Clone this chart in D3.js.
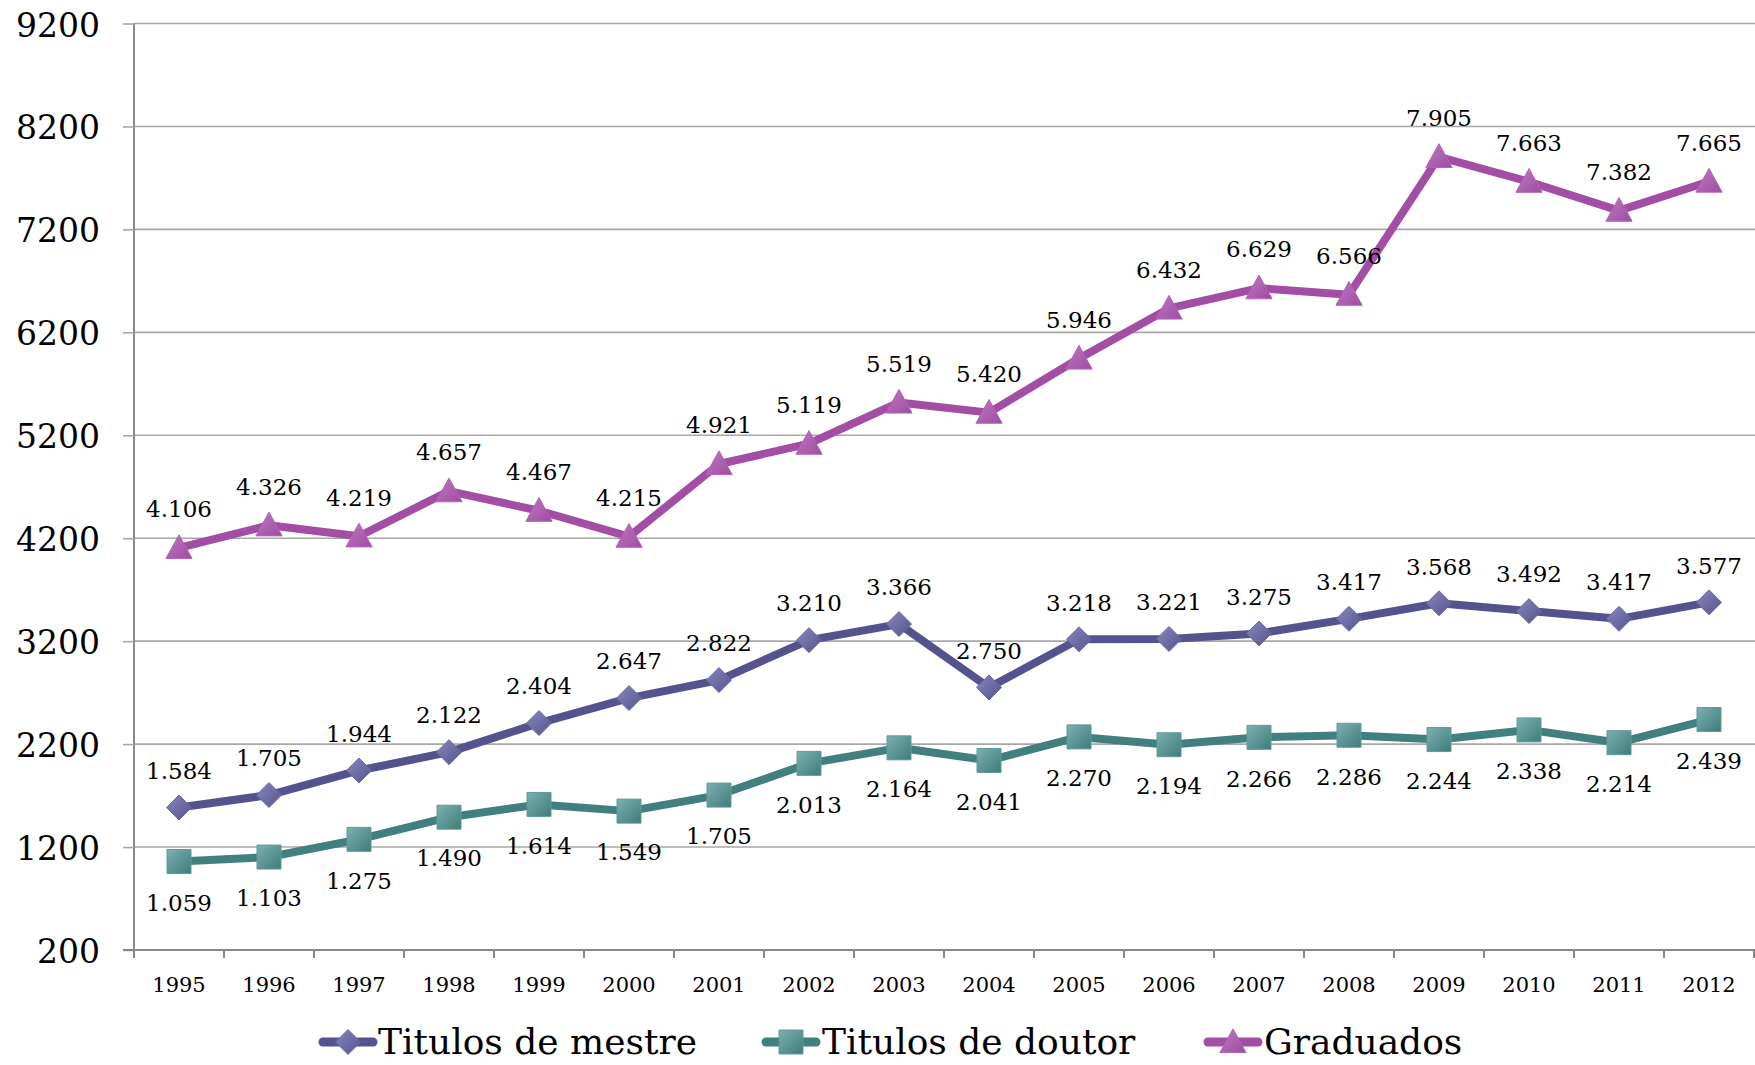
<!DOCTYPE html>
<html><head><meta charset="utf-8">
<script src="https://cdn.jsdelivr.net/npm/d3@7"></script>
<style>html,body{margin:0;padding:0;background:#fff;}svg{display:block;}</style>
</head><body>
<svg id="chart" width="1755" height="1065"></svg>
<script>
const years = ["1995","1996","1997","1998","1999","2000","2001","2002","2003","2004","2005","2006","2007","2008","2009","2010","2011","2012"];
const mestre = [1584,1705,1944,2122,2404,2647,2822,3210,3366,2750,3218,3221,3275,3417,3568,3492,3417,3577];
const doutor = [1059,1103,1275,1490,1614,1549,1705,2013,2164,2041,2270,2194,2266,2286,2244,2338,2214,2439];
const graduados = [4106,4326,4219,4657,4467,4215,4921,5119,5519,5420,5946,6432,6629,6566,7905,7663,7382,7665];
const yTicks = [200,1200,2200,3200,4200,5200,6200,7200,8200,9200];
const seriesNames = ["Titulos de mestre","Titulos de doutor","Graduados"];

const W = 1755, H = 1065;
const pLeft = 134, pRight = 1754, pTop = 23.5, pBottom = 950;
const FONT = "'DejaVu Serif', serif";
const svg = d3.select("#chart");
const x = d3.scaleBand().domain(years).range([pLeft, pRight]).padding(0);
const y = d3.scaleLinear().domain([200, 9200]).range([pBottom, pTop]);
const cx = d => x(d) + x.bandwidth() / 2;
const fmt = d3.formatLocale({decimal: ",", thousands: ".", grouping: [3], currency: ["", ""]}).format(",d");

const defs = svg.append("defs");
const series = [
  {name: seriesNames[0], values: mestre, color: "#55538D", light: "#8987BE", dark: "#55538D", stroke: "#6B69A3", shape: "diamond", off: -37},
  {name: seriesNames[1], values: doutor, color: "#42807F", light: "#7DB1B0", dark: "#3E7B7A", stroke: "#5E9A99", shape: "square", off: 41},
  {name: seriesNames[2], values: graduados, color: "#A24EA5", light: "#BC7BBF", dark: "#A04BA3", stroke: "#B265B5", shape: "triangle", off: -39}
];
series.forEach((s, i) => {
  const g = defs.append("linearGradient").attr("id", "grad" + i)
    .attr("x1", "0").attr("y1", "0").attr("x2", "1").attr("y2", "1");
  g.append("stop").attr("offset", "0").attr("stop-color", s.light);
  g.append("stop").attr("offset", "1").attr("stop-color", s.dark);
});

// gridlines
svg.append("g").selectAll("line").data(yTicks).join("line")
  .attr("x1", pLeft).attr("x2", W).attr("y1", d => y(d)).attr("y2", d => y(d))
  .attr("stroke", "#a8a8a8").attr("stroke-width", 1.6);

// y axis
const yAxis = svg.append("g").attr("transform", `translate(${pLeft},0)`)
  .call(d3.axisLeft(y).tickValues(yTicks).tickSize(11).tickPadding(23).tickFormat(d => String(d)));
yAxis.select(".domain").attr("stroke", "#888").attr("stroke-width", 2).attr("d", `M0,${pTop}V${pBottom + 8}`);
yAxis.selectAll(".tick line").attr("stroke", "#a8a8a8").attr("stroke-width", 1.6);
yAxis.selectAll(".tick text").attr("font-family", FONT).attr("font-size", 33).attr("fill", "#000").attr("dy", "0.38em");

// x axis
const xAxis = svg.append("g").attr("transform", `translate(0,${pBottom})`)
  .call(d3.axisBottom(x).tickSize(0).tickPadding(27));
xAxis.select(".domain").attr("stroke", "#888").attr("stroke-width", 2).attr("d", `M${pLeft - 11},0H${W}`);
xAxis.selectAll(".tick text").attr("font-family", FONT).attr("font-size", 21).attr("fill", "#000");
svg.append("g").selectAll("line").data(years.map(d => x(d)).concat([pRight])).join("line")
  .attr("x1", d => d).attr("x2", d => d).attr("y1", pBottom).attr("y2", pBottom + 8)
  .attr("stroke", "#888").attr("stroke-width", 2);

function markerPath(shape, r) {
  if (shape === "diamond") return `M0,${-r}L${r},0L0,${r}L${-r},0Z`;
  if (shape === "square") return `M${-r},${-r}H${r}V${r}H${-r}Z`;
  return `M0,${-r * 1.05}L${r * 1.05},${r * 0.85}H${-r * 1.05}Z`;
}
const rSize = {diamond: 12.5, square: 12, triangle: 12.5};

const line = d3.line().x((d, i) => cx(years[i])).y(d => y(d));
series.forEach((s, i) => {
  const g = svg.append("g");
  g.append("path").datum(s.values).attr("d", line).attr("fill", "none")
    .attr("stroke", s.color).attr("stroke-width", 8).attr("stroke-linejoin", "round");
  g.selectAll("path.m").data(s.values).join("path").attr("class", "m")
    .attr("transform", (d, j) => `translate(${cx(years[j])},${y(d)})`)
    .attr("d", markerPath(s.shape, rSize[s.shape]))
    .attr("fill", `url(#grad${i})`).attr("stroke", s.stroke).attr("stroke-width", 1);
  g.selectAll("text").data(s.values).join("text")
    .attr("x", (d, j) => cx(years[j])).attr("y", d => y(d) + s.off)
    .attr("dy", "0.36em").attr("text-anchor", "middle")
    .attr("font-family", FONT).attr("font-size", 23).attr("fill", "#000")
    .text(d => fmt(d));
});

// legend
const legendPos = [{lx: 319, tx: 378}, {lx: 762, tx: 822}, {lx: 1204, tx: 1264}];
const ly = 1042;
series.forEach((s, i) => {
  const p = legendPos[i];
  const g = svg.append("g");
  g.append("line").attr("x1", p.lx + 4).attr("x2", p.lx + 54).attr("y1", ly).attr("y2", ly)
    .attr("stroke", s.color).attr("stroke-width", 9).attr("stroke-linecap", "round");
  g.append("path").attr("transform", `translate(${p.lx + 29},${ly})`)
    .attr("d", markerPath(s.shape, rSize[s.shape])).attr("fill", `url(#grad${i})`)
    .attr("stroke", s.stroke).attr("stroke-width", 1);
  g.append("text").attr("x", p.tx).attr("y", 1054).attr("font-family", FONT)
    .attr("font-size", 36).attr("fill", "#000").text(s.name);
});
</script>
</body></html>
